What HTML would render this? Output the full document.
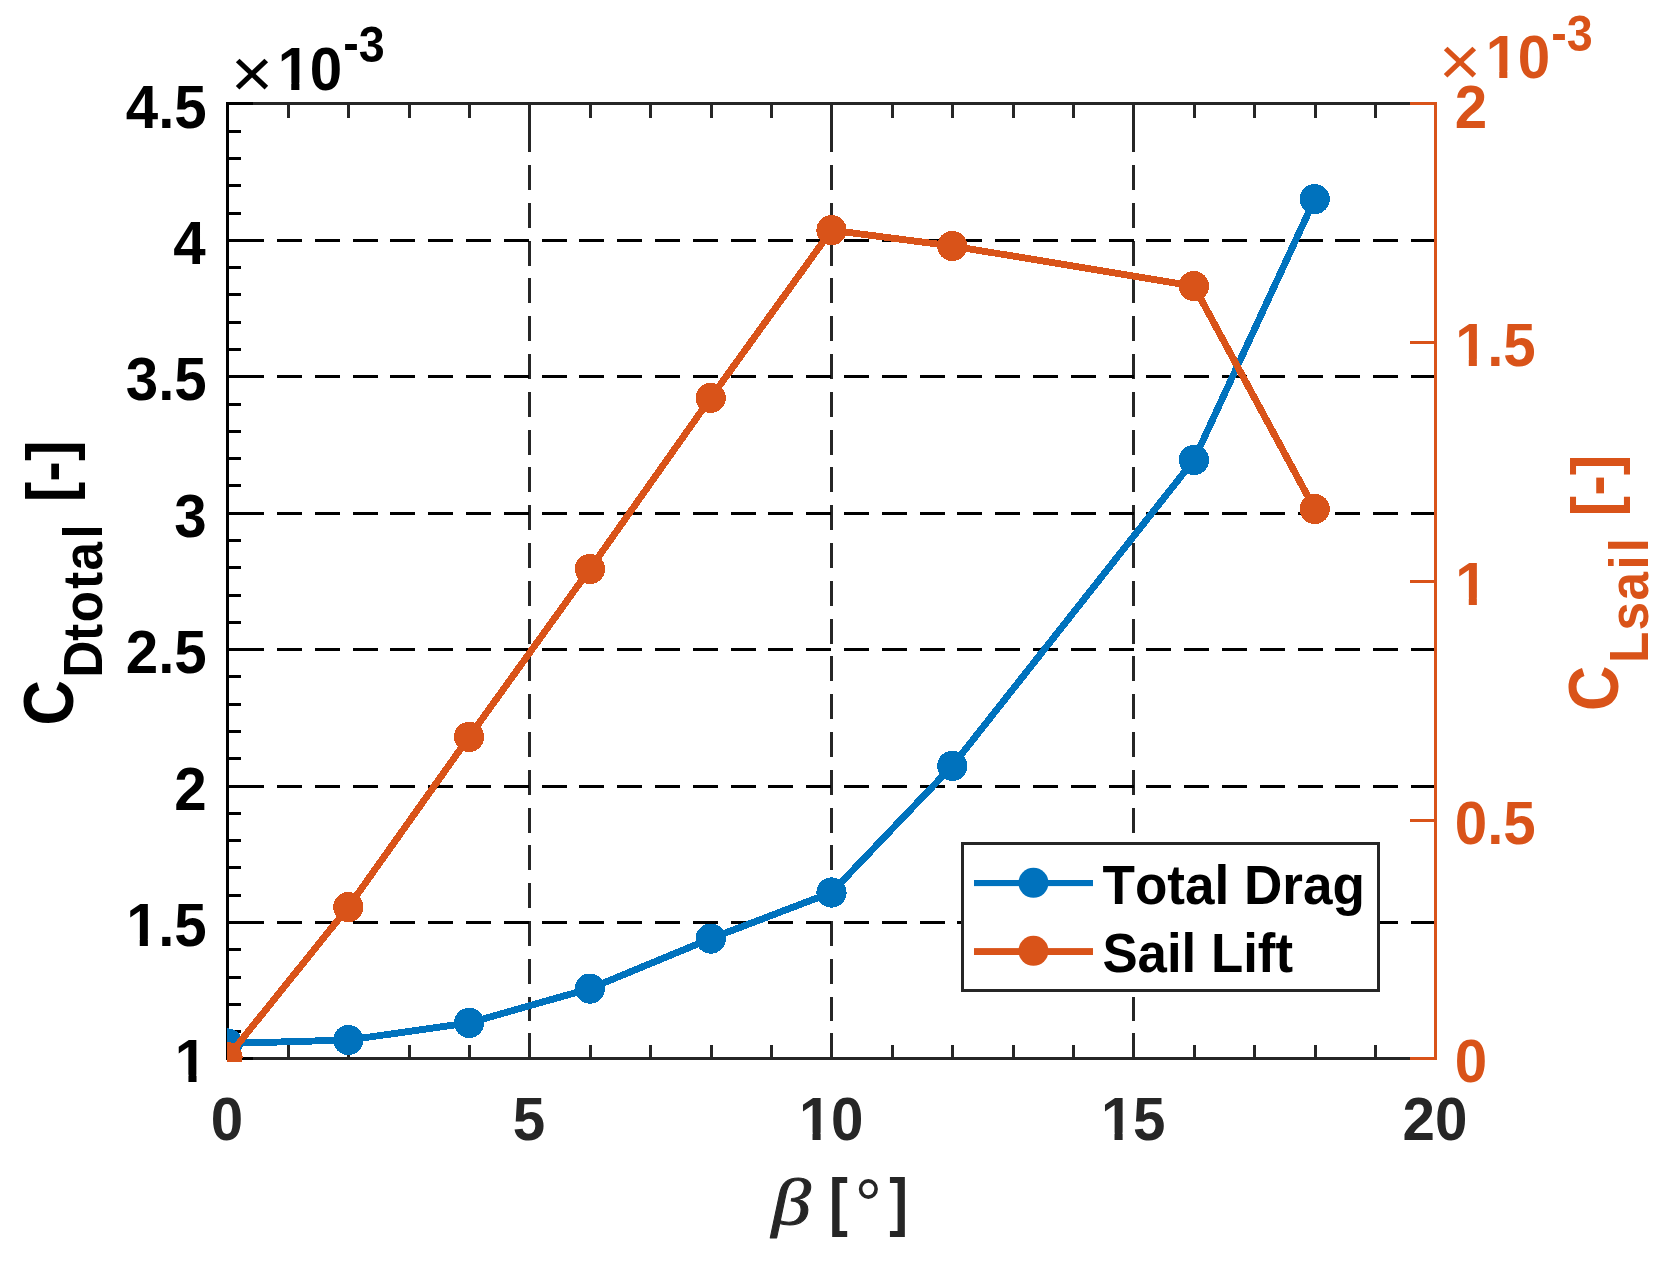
<!DOCTYPE html>
<html lang="en"><head><meta charset="utf-8"><title>Total Drag and Sail Lift vs beta</title>
<style>html,body{margin:0;padding:0;background:#fff}body{width:1665px;height:1262px;overflow:hidden}svg{display:block}text{font-family:"Liberation Sans",sans-serif;font-weight:bold;font-kerning:none;white-space:pre}</style>
</head><body>
<svg width="1665" height="1262" viewBox="0 0 1665 1262">
<rect x="0" y="0" width="1665" height="1262" fill="#fff"/>
<defs><clipPath id="cp"><rect x="227" y="100" width="1211" height="962"/></clipPath>
<clipPath id="one"><path clip-rule="evenodd" d="M-10,-70H220V30H-10Z M3.17,-6.84H14.07V4H3.17Z M22.16,-6.84H32.32V4H22.16Z"/></clipPath></defs>
<g fill="none" stroke-width="3" shape-rendering="crispEdges">
<line x1="529.5" y1="103.5" x2="529.5" y2="1058.5" stroke="#262626" stroke-dasharray="25 12.8" stroke-dashoffset="14.2"/>
<line x1="831.5" y1="103.5" x2="831.5" y2="1058.5" stroke="#262626" stroke-dasharray="25 12.8" stroke-dashoffset="14.2"/>
<line x1="1133.5" y1="103.5" x2="1133.5" y2="1058.5" stroke="#262626" stroke-dasharray="25 12.8" stroke-dashoffset="14.2"/>
<line x1="227.5" y1="922.5" x2="1435.5" y2="922.5" stroke="#000000" stroke-dasharray="25 12.8" stroke-dashoffset="26.1"/>
<line x1="227.5" y1="786.5" x2="1435.5" y2="786.5" stroke="#000000" stroke-dasharray="25 12.8" stroke-dashoffset="26.1"/>
<line x1="227.5" y1="649.5" x2="1435.5" y2="649.5" stroke="#000000" stroke-dasharray="25 12.8" stroke-dashoffset="26.1"/>
<line x1="227.5" y1="513.5" x2="1435.5" y2="513.5" stroke="#000000" stroke-dasharray="25 12.8" stroke-dashoffset="26.1"/>
<line x1="227.5" y1="376.5" x2="1435.5" y2="376.5" stroke="#000000" stroke-dasharray="25 12.8" stroke-dashoffset="26.1"/>
<line x1="227.5" y1="240.5" x2="1435.5" y2="240.5" stroke="#000000" stroke-dasharray="25 12.8" stroke-dashoffset="26.1"/>
</g>
<g fill="none" stroke-width="3" stroke-linecap="square" shape-rendering="crispEdges">
<line x1="227.5" y1="103.5" x2="1435.5" y2="103.5" stroke="#262626"/>
<line x1="227.5" y1="1058.5" x2="1435.5" y2="1058.5" stroke="#262626"/>
<line x1="227.5" y1="1058.5" x2="227.5" y2="1034.3" stroke="#262626"/>
<line x1="227.5" y1="103.5" x2="227.5" y2="128.5" stroke="#262626"/>
<line x1="288.5" y1="1058.5" x2="288.5" y2="1046.8" stroke="#262626"/>
<line x1="288.5" y1="103.5" x2="288.5" y2="116.5" stroke="#262626"/>
<line x1="348.5" y1="1058.5" x2="348.5" y2="1046.8" stroke="#262626"/>
<line x1="348.5" y1="103.5" x2="348.5" y2="116.5" stroke="#262626"/>
<line x1="409.5" y1="1058.5" x2="409.5" y2="1046.8" stroke="#262626"/>
<line x1="409.5" y1="103.5" x2="409.5" y2="116.5" stroke="#262626"/>
<line x1="469.5" y1="1058.5" x2="469.5" y2="1046.8" stroke="#262626"/>
<line x1="469.5" y1="103.5" x2="469.5" y2="116.5" stroke="#262626"/>
<line x1="529.5" y1="1058.5" x2="529.5" y2="1034.3" stroke="#262626"/>
<line x1="529.5" y1="103.5" x2="529.5" y2="128.5" stroke="#262626"/>
<line x1="590.5" y1="1058.5" x2="590.5" y2="1046.8" stroke="#262626"/>
<line x1="590.5" y1="103.5" x2="590.5" y2="116.5" stroke="#262626"/>
<line x1="650.5" y1="1058.5" x2="650.5" y2="1046.8" stroke="#262626"/>
<line x1="650.5" y1="103.5" x2="650.5" y2="116.5" stroke="#262626"/>
<line x1="711.5" y1="1058.5" x2="711.5" y2="1046.8" stroke="#262626"/>
<line x1="711.5" y1="103.5" x2="711.5" y2="116.5" stroke="#262626"/>
<line x1="771.5" y1="1058.5" x2="771.5" y2="1046.8" stroke="#262626"/>
<line x1="771.5" y1="103.5" x2="771.5" y2="116.5" stroke="#262626"/>
<line x1="831.5" y1="1058.5" x2="831.5" y2="1034.3" stroke="#262626"/>
<line x1="831.5" y1="103.5" x2="831.5" y2="128.5" stroke="#262626"/>
<line x1="892.5" y1="1058.5" x2="892.5" y2="1046.8" stroke="#262626"/>
<line x1="892.5" y1="103.5" x2="892.5" y2="116.5" stroke="#262626"/>
<line x1="952.5" y1="1058.5" x2="952.5" y2="1046.8" stroke="#262626"/>
<line x1="952.5" y1="103.5" x2="952.5" y2="116.5" stroke="#262626"/>
<line x1="1013.5" y1="1058.5" x2="1013.5" y2="1046.8" stroke="#262626"/>
<line x1="1013.5" y1="103.5" x2="1013.5" y2="116.5" stroke="#262626"/>
<line x1="1073.5" y1="1058.5" x2="1073.5" y2="1046.8" stroke="#262626"/>
<line x1="1073.5" y1="103.5" x2="1073.5" y2="116.5" stroke="#262626"/>
<line x1="1133.5" y1="1058.5" x2="1133.5" y2="1034.3" stroke="#262626"/>
<line x1="1133.5" y1="103.5" x2="1133.5" y2="128.5" stroke="#262626"/>
<line x1="1194.5" y1="1058.5" x2="1194.5" y2="1046.8" stroke="#262626"/>
<line x1="1194.5" y1="103.5" x2="1194.5" y2="116.5" stroke="#262626"/>
<line x1="1254.5" y1="1058.5" x2="1254.5" y2="1046.8" stroke="#262626"/>
<line x1="1254.5" y1="103.5" x2="1254.5" y2="116.5" stroke="#262626"/>
<line x1="1315.5" y1="1058.5" x2="1315.5" y2="1046.8" stroke="#262626"/>
<line x1="1315.5" y1="103.5" x2="1315.5" y2="116.5" stroke="#262626"/>
<line x1="1375.5" y1="1058.5" x2="1375.5" y2="1046.8" stroke="#262626"/>
<line x1="1375.5" y1="103.5" x2="1375.5" y2="116.5" stroke="#262626"/>
<line x1="1435.5" y1="1058.5" x2="1435.5" y2="1034.3" stroke="#262626"/>
<line x1="1435.5" y1="103.5" x2="1435.5" y2="128.5" stroke="#262626"/>
<line x1="227.5" y1="1058.5" x2="251.7" y2="1058.5" stroke="#000000"/>
<line x1="227.5" y1="1031.5" x2="239.6" y2="1031.5" stroke="#000000"/>
<line x1="227.5" y1="1004.5" x2="239.6" y2="1004.5" stroke="#000000"/>
<line x1="227.5" y1="977.5" x2="239.6" y2="977.5" stroke="#000000"/>
<line x1="227.5" y1="949.5" x2="239.6" y2="949.5" stroke="#000000"/>
<line x1="227.5" y1="922.5" x2="251.7" y2="922.5" stroke="#000000"/>
<line x1="227.5" y1="895.5" x2="239.6" y2="895.5" stroke="#000000"/>
<line x1="227.5" y1="867.5" x2="239.6" y2="867.5" stroke="#000000"/>
<line x1="227.5" y1="840.5" x2="239.6" y2="840.5" stroke="#000000"/>
<line x1="227.5" y1="813.5" x2="239.6" y2="813.5" stroke="#000000"/>
<line x1="227.5" y1="786.5" x2="251.7" y2="786.5" stroke="#000000"/>
<line x1="227.5" y1="758.5" x2="239.6" y2="758.5" stroke="#000000"/>
<line x1="227.5" y1="731.5" x2="239.6" y2="731.5" stroke="#000000"/>
<line x1="227.5" y1="704.5" x2="239.6" y2="704.5" stroke="#000000"/>
<line x1="227.5" y1="676.5" x2="239.6" y2="676.5" stroke="#000000"/>
<line x1="227.5" y1="649.5" x2="251.7" y2="649.5" stroke="#000000"/>
<line x1="227.5" y1="622.5" x2="239.6" y2="622.5" stroke="#000000"/>
<line x1="227.5" y1="595.5" x2="239.6" y2="595.5" stroke="#000000"/>
<line x1="227.5" y1="567.5" x2="239.6" y2="567.5" stroke="#000000"/>
<line x1="227.5" y1="540.5" x2="239.6" y2="540.5" stroke="#000000"/>
<line x1="227.5" y1="513.5" x2="251.7" y2="513.5" stroke="#000000"/>
<line x1="227.5" y1="485.5" x2="239.6" y2="485.5" stroke="#000000"/>
<line x1="227.5" y1="458.5" x2="239.6" y2="458.5" stroke="#000000"/>
<line x1="227.5" y1="431.5" x2="239.6" y2="431.5" stroke="#000000"/>
<line x1="227.5" y1="404.5" x2="239.6" y2="404.5" stroke="#000000"/>
<line x1="227.5" y1="376.5" x2="251.7" y2="376.5" stroke="#000000"/>
<line x1="227.5" y1="349.5" x2="239.6" y2="349.5" stroke="#000000"/>
<line x1="227.5" y1="322.5" x2="239.6" y2="322.5" stroke="#000000"/>
<line x1="227.5" y1="294.5" x2="239.6" y2="294.5" stroke="#000000"/>
<line x1="227.5" y1="267.5" x2="239.6" y2="267.5" stroke="#000000"/>
<line x1="227.5" y1="240.5" x2="251.7" y2="240.5" stroke="#000000"/>
<line x1="227.5" y1="213.5" x2="239.6" y2="213.5" stroke="#000000"/>
<line x1="227.5" y1="185.5" x2="239.6" y2="185.5" stroke="#000000"/>
<line x1="227.5" y1="158.5" x2="239.6" y2="158.5" stroke="#000000"/>
<line x1="227.5" y1="131.5" x2="239.6" y2="131.5" stroke="#000000"/>
<line x1="227.5" y1="103.5" x2="251.7" y2="103.5" stroke="#000000"/>
<line x1="1435.5" y1="1058.5" x2="1411.3" y2="1058.5" stroke="#D95319"/>
<line x1="1435.5" y1="820.5" x2="1411.3" y2="820.5" stroke="#D95319"/>
<line x1="1435.5" y1="581.5" x2="1411.3" y2="581.5" stroke="#D95319"/>
<line x1="1435.5" y1="342.5" x2="1411.3" y2="342.5" stroke="#D95319"/>
<line x1="1435.5" y1="103.5" x2="1411.3" y2="103.5" stroke="#D95319"/>
<line x1="227.5" y1="103.5" x2="227.5" y2="1058.5" stroke="#000000"/>
<line x1="1435.5" y1="103.5" x2="1435.5" y2="1058.5" stroke="#D95319"/>
</g>
<g clip-path="url(#cp)" shape-rendering="crispEdges">
<polyline fill="none" stroke="#0072BD" stroke-width="6.9" stroke-linejoin="round" points="227.5,1043.5 348.3,1040 469.1,1022.9 589.9,988.6 710.7,938.6 831.5,892.5 952.3,765.9 1193.9,460 1314.7,199.1"/>
<circle cx="227.5" cy="1043.5" r="15.1" fill="#0072BD"/>
<circle cx="348.3" cy="1040" r="15.1" fill="#0072BD"/>
<circle cx="469.1" cy="1022.9" r="15.1" fill="#0072BD"/>
<circle cx="589.9" cy="988.6" r="15.1" fill="#0072BD"/>
<circle cx="710.7" cy="938.6" r="15.1" fill="#0072BD"/>
<circle cx="831.5" cy="892.5" r="15.1" fill="#0072BD"/>
<circle cx="952.3" cy="765.9" r="15.1" fill="#0072BD"/>
<circle cx="1193.9" cy="460" r="15.1" fill="#0072BD"/>
<circle cx="1314.7" cy="199.1" r="15.1" fill="#0072BD"/>
<polyline fill="none" stroke="#D95319" stroke-width="6.9" stroke-linejoin="round" points="227.5,1057.3 348.3,907.1 469.1,736.9 589.9,569 710.7,397.9 831.5,230.2 952.3,246 1193.9,286.1 1314.7,509"/>
<circle cx="227.5" cy="1057.3" r="15.1" fill="#D95319"/>
<circle cx="348.3" cy="907.1" r="15.1" fill="#D95319"/>
<circle cx="469.1" cy="736.9" r="15.1" fill="#D95319"/>
<circle cx="589.9" cy="569" r="15.1" fill="#D95319"/>
<circle cx="710.7" cy="397.9" r="15.1" fill="#D95319"/>
<circle cx="831.5" cy="230.2" r="15.1" fill="#D95319"/>
<circle cx="952.3" cy="246" r="15.1" fill="#D95319"/>
<circle cx="1193.9" cy="286.1" r="15.1" fill="#D95319"/>
<circle cx="1314.7" cy="509" r="15.1" fill="#D95319"/>
</g>
<text transform="translate(125.71,128) scale(1.0000,1.0465)" font-size="58.33" fill="#000000">4.5</text>
<text transform="translate(173.16,264) scale(1.0000,1.0465)" font-size="58.33" fill="#000000">4</text>
<text transform="translate(125.71,400) scale(1.0000,1.0465)" font-size="58.33" fill="#000000">3.5</text>
<text transform="translate(174.36,537) scale(1.0000,1.0465)" font-size="58.33" fill="#000000">3</text>
<text transform="translate(125.71,673) scale(1.0000,1.0465)" font-size="58.33" fill="#000000">2.5</text>
<text transform="translate(174.36,810) scale(1.0000,1.0465)" font-size="58.33" fill="#000000">2</text>
<text transform="translate(125.71,946) scale(1,1.0465)" x="0.5 32.44 48.65" font-size="58.33" fill="#000000" clip-path="url(#one)">1.5</text>
<text transform="translate(174.36,1082) scale(1,1.0465)" x="0.5" font-size="58.33" fill="#000000" clip-path="url(#one)">1</text>
<text transform="translate(210.68,1140) scale(1.0000,1.0465)" font-size="58.33" fill="#262626">0</text>
<text transform="translate(512.68,1140) scale(1.0000,1.0465)" font-size="58.33" fill="#262626">5</text>
<text transform="translate(798.46,1140) scale(1,1.0465)" x="0.5 32.44" font-size="58.33" fill="#262626" clip-path="url(#one)">10</text>
<text transform="translate(1100.46,1140) scale(1,1.0465)" x="0.5 32.44" font-size="58.33" fill="#262626" clip-path="url(#one)">15</text>
<text transform="translate(1402.46,1140) scale(1.0000,1.0465)" font-size="58.33" fill="#262626">20</text>
<text transform="translate(1454.7,128) scale(1.0000,1.0465)" font-size="58.33" fill="#D95319">2</text>
<text transform="translate(1454.7,366) scale(1,1.0465)" x="0.5 32.44 48.65" font-size="58.33" fill="#D95319" clip-path="url(#one)">1.5</text>
<text transform="translate(1454.7,605) scale(1,1.0465)" x="0.5" font-size="58.33" fill="#D95319" clip-path="url(#one)">1</text>
<text transform="translate(1454.7,844) scale(1.0000,1.0465)" font-size="58.33" fill="#D95319">0.5</text>
<text transform="translate(1454.7,1082) scale(1.0000,1.0465)" font-size="58.33" fill="#D95319">0</text>
<text transform="translate(230.66,97.46) scale(1.0011,0.9352)" font-size="72.6" fill="#000000" style="font-family:'Liberation Sans',sans-serif;font-weight:normal;font-style:normal">×</text>
<text transform="translate(277.2,90) scale(1,1.0465)" x="0.5 32.44" font-size="58.33" fill="#000000" clip-path="url(#one)">10</text>
<text transform="translate(343.2,61.5) scale(1,1.085)" y="-1.1 0" font-size="46.67" fill="#000000">-3</text>
<text transform="translate(1438.66,85.46) scale(1.0011,0.9352)" font-size="72.6" fill="#D95319" style="font-family:'Liberation Sans',sans-serif;font-weight:normal;font-style:normal">×</text>
<text transform="translate(1485.2,78) scale(1,1.0465)" x="0.5 32.44" font-size="58.33" fill="#D95319" clip-path="url(#one)">10</text>
<text transform="translate(1551.2,51.2) scale(1,1.085)" y="-1.1 0" font-size="46.67" fill="#D95319">-3</text>
<text transform="translate(771.57,1223.68) scale(1.1969,0.9980)" font-size="66" fill="#262626" style="font-family:'Liberation Serif',serif;font-weight:normal;font-style:italic" stroke="#262626" stroke-width="0.9" stroke-linejoin="round">β</text>
<text transform="translate(828.92,1223.53) scale(0.8833,0.9964)" font-size="64.17" fill="#262626">[</text>
<text transform="translate(854.84,1229.33) scale(0.9735,1.0317)" font-size="70" fill="#262626" style="font-family:'Liberation Sans',sans-serif;font-weight:normal;font-style:normal">°</text>
<text transform="translate(889.31,1223.53) scale(0.8774,0.9964)" font-size="64.17" fill="#262626">]</text>
<g transform="rotate(-90)">
<text transform="translate(-725.58,72.52) scale(0.9820,1.0851)" font-size="64.17" fill="#000000">C</text>
<text transform="translate(0,102.1) scale(1,1.0647)" x="-677.67 -641.05 -622.28 -588.95 -570.39 -538.56" font-size="51.33" fill="#000000">Dtotal</text>
<text transform="translate(-502.28,71.62) scale(0.9648,1.0048)" font-size="64.17" fill="#000000">[-]</text>
<text transform="translate(-710.88,1617.52) scale(0.9796,1.0851)" font-size="64.17" fill="#D95319">C</text>
<text transform="translate(0,1648.3) scale(1,1.0647)" x="-663.1 -630.52 -600.39 -569.46 -552.21" font-size="51.33" fill="#D95319">Lsail</text>
<text transform="translate(-516.38,1616.62) scale(0.9648,1.0048)" font-size="64.17" fill="#D95319">[-]</text>
</g>
<rect x="962.5" y="843.5" width="416" height="147" fill="#fff" stroke="#262626" stroke-width="3" shape-rendering="crispEdges"/>
<rect x="974" y="880" width="119" height="6.1" fill="#0072BD"/>
<circle cx="1033.45" cy="882.85" r="15" fill="#0072BD"/>
<rect x="974" y="948.1" width="119" height="6.9" fill="#D95319"/>
<circle cx="1033.45" cy="950.8" r="15" fill="#D95319"/>
<text transform="translate(1102.5,904) scale(1.0043,1.0506)" font-size="52.85" fill="#000000">Total Drag</text>
<text transform="translate(1102.38,971.9) scale(0.9990,1.0396)" font-size="52.85" fill="#000000">Sail Lift</text>
</svg>
</body></html>
